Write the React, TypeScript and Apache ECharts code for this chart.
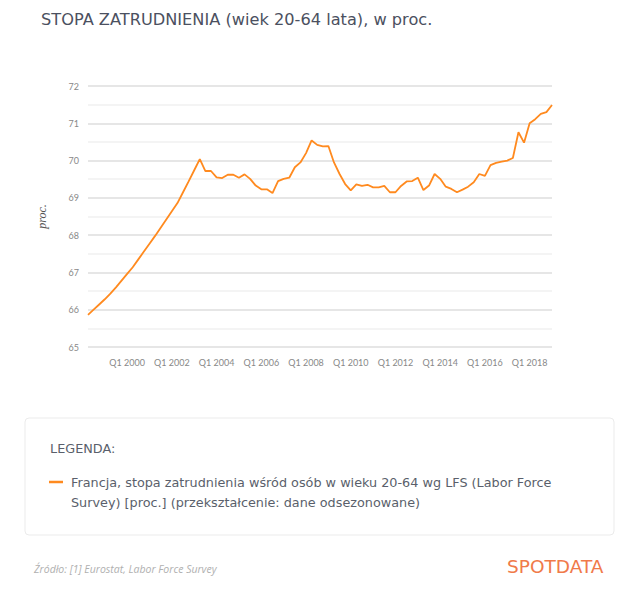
import React, { useEffect, useRef } from "react";
import * as echarts from "echarts";

const startYear = 1998;
const startQuarter = 2;
const values: number[] = [
  65.86, 66.0, 66.14, 66.28, 66.43, 66.6, 66.78, 66.96, 67.14, 67.35,
  67.56, 67.77, 67.98, 68.2, 68.42, 68.64, 68.86, 69.15, 69.44, 69.74,
  70.04, 69.72, 69.72, 69.55, 69.53, 69.62, 69.62, 69.54, 69.63, 69.51,
  69.33, 69.23, 69.23, 69.13, 69.45, 69.51, 69.54, 69.82, 69.95, 70.2,
  70.54, 70.42, 70.38, 70.39, 69.95, 69.64, 69.37, 69.2, 69.36, 69.32,
  69.35, 69.28, 69.28, 69.32, 69.15, 69.15, 69.32, 69.44, 69.45, 69.54,
  69.21, 69.33, 69.64, 69.51, 69.3, 69.24, 69.15, 69.22, 69.3, 69.42,
  69.64, 69.59, 69.88, 69.94, 69.97, 70.0, 70.07, 70.76, 70.48, 71.0,
  71.11, 71.25, 71.3, 71.49,
];
const categories: string[] = values.map((_, i) => {
  const q = startQuarter - 1 + i;
  return `Q${(q % 4) + 1} ${startYear + Math.floor(q / 4)}`;
});
const labelYears: number[] = [2000, 2002, 2004, 2006, 2008, 2010, 2012, 2014, 2016, 2018];
const labelSet = new Set(labelYears.map((y) => `Q1 ${y}`));

const titleText = "STOPA ZATRUDNIENIA (wiek 20-64 lata), w proc.";
const yName = "proc.";
const legendHeader = "LEGENDA:";
const legendLine1 = "Francja, stopa zatrudnienia wśród osób w wieku 20-64 wg LFS (Labor Force";
const legendLine2 = "Survey) [proc.] (przekształcenie: dane odsezonowane)";
const sourceText = "Źródło: [1] Eurostat, Labor Force Survey";
const brandText = "SPOTDATA";

const ORANGE = "#FF8A1F";
const TEXT = "#5a5f6b";
const SANS = "DejaVu Sans";

export default function App() {
  const ref = useRef<HTMLDivElement>(null);
  useEffect(() => {
    if (!ref.current) return;
    const chart = echarts.init(ref.current, undefined, { renderer: "svg" });
    chart.setOption({
      animation: false,
      backgroundColor: "#ffffff",
      title: {
        text: titleText,
        left: 36,
        top: 6,
        textStyle: {
          fontFamily: SANS,
          fontSize: 16.2,
          fontWeight: "normal",
          color: "#4b5060",
        },
      },
      grid: { left: 88, right: 88, top: 86, bottom: 247 },
      xAxis: {
        type: "category",
        data: categories,
        boundaryGap: false,
        axisLine: { show: false },
        axisTick: { show: false },
        axisLabel: {
          interval: (_idx: number, val: string) => labelSet.has(val),
          color: "#888",
          fontSize: 9,
          fontFamily: "Lato",
          margin: 11,
        },
      },
      yAxis: {
        type: "value",
        min: 65,
        max: 72,
        interval: 1,
        name: yName,
        nameLocation: "middle",
        nameRotate: 90,
        nameGap: 40,
        nameTextStyle: {
          fontFamily: "Liberation Serif",
          fontStyle: "italic",
          fontSize: 12,
          color: "#555",
        },
        axisLine: { show: false },
        axisTick: { show: false },
        axisLabel: { color: "#888", fontSize: 9, fontFamily: "Lato", margin: 9 },
        splitLine: { lineStyle: { color: "#dedede", width: 1.5 } },
        minorTick: { show: false, splitNumber: 2 },
        minorSplitLine: { show: true, lineStyle: { color: "#f1f1f1", width: 1.5 } },
      },
      series: [
        {
          type: "line",
          data: values,
          symbol: "none",
          lineStyle: { color: ORANGE, width: 1.8 },
        },
      ],
      graphic: [
        {
          type: "rect",
          shape: { x: 25, y: 418, width: 589, height: 117, r: 4 },
          style: { fill: "#ffffff", stroke: "#ebebeb", lineWidth: 1 },
        },
        {
          type: "text",
          x: 50,
          y: 448,
          style: {
            text: legendHeader,
            fontFamily: SANS,
            fontSize: 12.8,
            fill: TEXT,
            verticalAlign: "middle",
          },
        },
        {
          type: "line",
          shape: { x1: 49, y1: 482, x2: 63, y2: 482 },
          style: { stroke: ORANGE, lineWidth: 2.5 },
        },
        {
          type: "text",
          x: 71,
          y: 482,
          style: {
            text: legendLine1,
            fontFamily: SANS,
            fontSize: 12.8,
            fill: TEXT,
            verticalAlign: "middle",
          },
        },
        {
          type: "text",
          x: 71,
          y: 502,
          style: {
            text: legendLine2,
            fontFamily: SANS,
            fontSize: 12.8,
            fill: TEXT,
            verticalAlign: "middle",
          },
        },
        {
          type: "text",
          x: 34,
          y: 569,
          style: {
            text: sourceText,
            fontFamily: "Open Sans",
            fontStyle: "italic",
            fontSize: 10.5,
            fill: "#b0b0b0",
            verticalAlign: "middle",
          },
        },
        {
          type: "text",
          x: 507,
          y: 566,
          style: {
            text: brandText,
            fontFamily: SANS,
            fontSize: 18.5,
            fill: "#F07A4A",
            verticalAlign: "middle",
          },
        },
      ],
    });
    return () => chart.dispose();
  }, []);
  return (
    <div
      ref={ref}
      style={{ position: "fixed", left: 0, top: 0, width: 640, height: 594 }}
    />
  );
}
